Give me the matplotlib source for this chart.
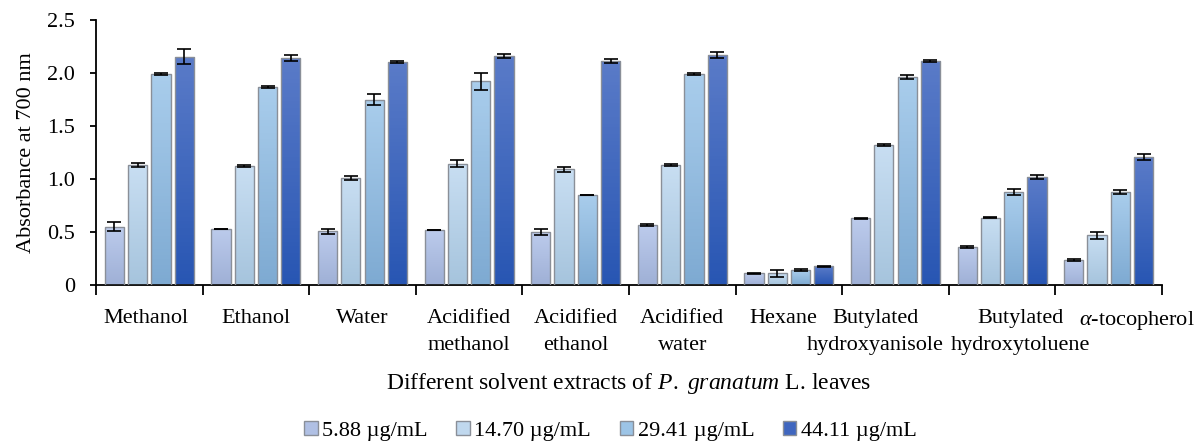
import numpy as np
import matplotlib
matplotlib.use("Agg")
import matplotlib.pyplot as plt
from matplotlib.patches import Patch
from matplotlib.colors import to_rgb
from matplotlib.transforms import ScaledTranslation

categories = ["Methanol", "Ethanol", "Water", "Acidified\nmethanol", "Acidified\nethanol",
              "Acidified\nwater", "Hexane", "Butylated\nhydroxyanisole",
              "Butylated\nhydroxytoluene", r"$\alpha$-tocopherol"]
series_labels = ["5.88 µg/mL", "14.70 µg/mL", "29.41 µg/mL", "44.11 µg/mL"]

vals_588 = [0.55, 0.53, 0.506, 0.52, 0.50, 0.563, 0.11, 0.63, 0.36, 0.233]
vals_1470 = [1.13, 1.12, 1.01, 1.145, 1.09, 1.135, 0.11, 1.318, 0.635, 0.469]
vals_2941 = [1.99, 1.87, 1.75, 1.92, 0.85, 1.99, 0.139, 1.965, 0.877, 0.874]
vals_4411 = [2.154, 2.14, 2.10, 2.16, 2.11, 2.167, 0.176, 2.11, 1.016, 1.207]

err_588 = [0.04, 0.003, 0.025, 0.003, 0.03, 0.01, 0.003, 0.003, 0.01, 0.01]
err_1470 = [0.02, 0.01, 0.02, 0.033, 0.02, 0.01, 0.03, 0.01, 0.003, 0.033]
err_2941 = [0.01, 0.01, 0.05, 0.08, 0.003, 0.01, 0.01, 0.02, 0.03, 0.02]
err_4411 = [0.07, 0.03, 0.01, 0.02, 0.02, 0.03, 0.003, 0.01, 0.02, 0.025]

series_vals = [vals_588, vals_1470, vals_2941, vals_4411]
series_errs = [err_588, err_1470, err_2941, err_4411]

# gradient colours (top, bottom) and legend colour
grad = [("#bccbec", "#9fb0d6"), ("#c8def2", "#a6c4dd"), ("#a9cdec", "#7eaad2"), ("#5a7bc8", "#2856b3")]
leg_cols = ["#b0c0e4", "#c0d8ee", "#9cc4e6", "#3f66bf"]

plt.rcParams['font.family'] = ['Liberation Serif', 'DejaVu Serif']
plt.rcParams['mathtext.fontset'] = 'custom'
plt.rcParams['mathtext.it'] = 'Liberation Serif:italic'
plt.rcParams['mathtext.rm'] = 'Liberation Serif'

fig = plt.figure(figsize=(11.97, 4.43), dpi=100)
ax = fig.add_axes([96/1197, 1-285/443, (1162-96)/1197, (285-20)/443])

x = np.arange(len(categories))
width = 0.18
step = 0.218
for i in range(4):
    pos = x + (i - 1.5) * step
    bars = ax.bar(pos, series_vals[i], width, color='none', edgecolor='#8a8f98', linewidth=1.0, zorder=3)
    c_top = np.array(to_rgb(grad[i][0]))
    c_bot = np.array(to_rgb(grad[i][1]))
    t = np.linspace(0, 1, 64)[:, None]
    img = (c_top * (1 - t) + c_bot * t)[:, None, :]
    for b in bars:
        x0 = b.get_x(); h = b.get_height(); w = b.get_width()
        im = ax.imshow(img, extent=(x0, x0 + w, 0, h), aspect='auto', zorder=2, origin='upper')
        im.set_clip_path(b)
    ax.errorbar(pos, series_vals[i], yerr=series_errs[i], fmt='none', ecolor='black',
                elinewidth=1.2, capsize=5, capthick=1.2, zorder=4)

ax.set_xlim(-0.5, len(categories) - 0.5)
ax.set_ylim(0, 2.5)
ax.set_yticks([0, 0.5, 1.0, 1.5, 2.0, 2.5])
ax.set_yticklabels(["0", "0.5", "1.0", "1.5", "2.0", "2.5"])

line1 = [c.split("\n")[0] for c in categories]
line2 = [c.split("\n")[1] if "\n" in c else "" for c in categories]

ax.set_xticks(x)
ax.set_xticklabels(line1, fontsize=16)
ax.set_xticks(np.arange(-0.5, len(categories), 1.0), minor=True)
ax.tick_params(axis='x', which='major', length=0, pad=17)
ax.tick_params(axis='x', which='minor', length=7, width=1.3, direction='out')
ax.tick_params(axis='y', labelsize=16, length=4, width=1.3, pad=11)

# horizontal nudges (pixels) of crowded category labels, as in the reference
nudges = [-3, 0, 0, 0, 0, 0, -6, -20, 18, 28]
for lbl, dx in zip(ax.get_xticklabels(), nudges):
    lbl.set_transform(lbl.get_transform() + ScaledTranslation(dx / 100, 0, fig.dpi_scale_trans))

# second line of the two-line category labels
for xi, txt, dx in zip(x, line2, nudges):
    if txt:
        ax.text(xi, 0, txt, fontsize=16, ha='center', va='top',
                transform=ax.get_xaxis_transform() + ScaledTranslation(dx / 100, -0.506, fig.dpi_scale_trans))

for s in ['top', 'right']:
    ax.spines[s].set_visible(False)
for s in ['left', 'bottom']:
    ax.spines[s].set_linewidth(1.3)

ax.set_ylabel("Absorbance at 700 nm", fontsize=16, labelpad=8)
ax.set_xlabel(r"Different solvent extracts of $\mathit{P.\ granatum}$ L. leaves", fontsize=17, labelpad=13)
ax.xaxis.set_label_coords(0.5, -0.325)

handles = [Patch(facecolor=leg_cols[i], edgecolor='#8a8f98', linewidth=1.0) for i in range(4)]
fig.legend(handles, series_labels, loc='lower center', bbox_to_anchor=(0.51, -0.04), ncol=4,
           frameon=False, fontsize=16, handlelength=0.6, handleheight=0.6, handletextpad=0.2,
           columnspacing=1.3)

fig.savefig("out.png", dpi=100)
